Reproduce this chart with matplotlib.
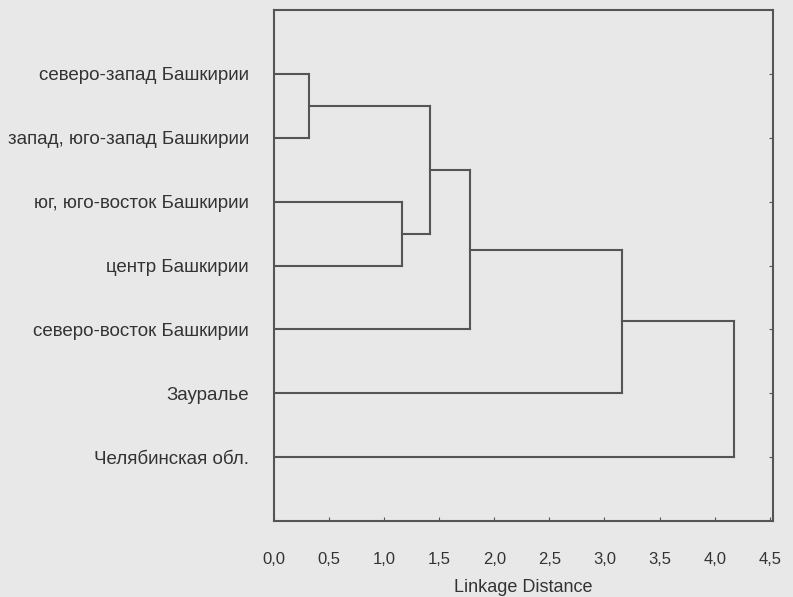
import matplotlib
matplotlib.use("Agg")
from matplotlib import pyplot as plt

# Листья дендрограммы (сверху вниз) и расстояния объединения
leaves = ['северо-запад Башкирии', 'запад, юго-запад Башкирии',
          'юг, юго-восток Башкирии', 'центр Башкирии',
          'северо-восток Башкирии', 'Зауралье', 'Челябинская обл.']
# объединения: (левый узел, правый узел, расстояние)
# узлы 0..6 - листья, 7.. - новые кластеры
merges = [(0, 1, 0.32),
          (2, 3, 1.16),
          (7, 8, 1.42),
          (9, 4, 1.78),
          (10, 5, 3.16),
          (11, 6, 4.18)]
xticks = [0.0, 0.5, 1.0, 1.5, 2.0, 2.5, 3.0, 3.5, 4.0, 4.5]
xticklabels = ['0,0', '0,5', '1,0', '1,5', '2,0', '2,5', '3,0', '3,5', '4,0', '4,5']

bg = '#e8e8e8'
line_color = '#555555'
text_color = '#333333'

plt.rcParams['font.family'] = ['Liberation Sans', 'DejaVu Sans']

fig = plt.figure(figsize=(7.93, 5.97), dpi=100, facecolor=bg)
ax = fig.add_axes([0.3455, 0.1273, 0.9748 - 0.3455, 0.9832 - 0.1273])
ax.set_facecolor(bg)

# позиция по y и высота каждого узла
ypos = {i: i + 1 for i in range(len(leaves))}
height = {i: 0.0 for i in range(len(leaves))}
for k, (a, b, d) in enumerate(merges):
    node = len(leaves) + k
    ax.plot([height[a], d], [ypos[a], ypos[a]], color=line_color, lw=1.5)
    ax.plot([height[b], d], [ypos[b], ypos[b]], color=line_color, lw=1.5)
    ax.plot([d, d], [ypos[a], ypos[b]], color=line_color, lw=1.5)
    ypos[node] = (ypos[a] + ypos[b]) / 2.0
    height[node] = d

ax.set_xlim(0, 4.53)
ax.set_ylim(len(leaves) + 1, 0)
ax.set_yticks(range(1, len(leaves) + 1))
ax.set_yticklabels(leaves, fontsize=13.5, color=text_color)
ax.set_xticks(xticks)
ax.set_xticklabels(xticklabels, fontsize=12, color=text_color)
ax.tick_params(axis='y', direction='in', length=3, color=line_color,
               left=False, right=True, pad=18)
ax.tick_params(axis='x', direction='in', length=3, color=line_color, pad=22)
ax.set_xlabel('Linkage Distance', fontsize=13, color=text_color, labelpad=9)
for s in ax.spines.values():
    s.set_color(line_color)
    s.set_linewidth(1.5)

fig.savefig('out.png', dpi=100, facecolor=bg)
